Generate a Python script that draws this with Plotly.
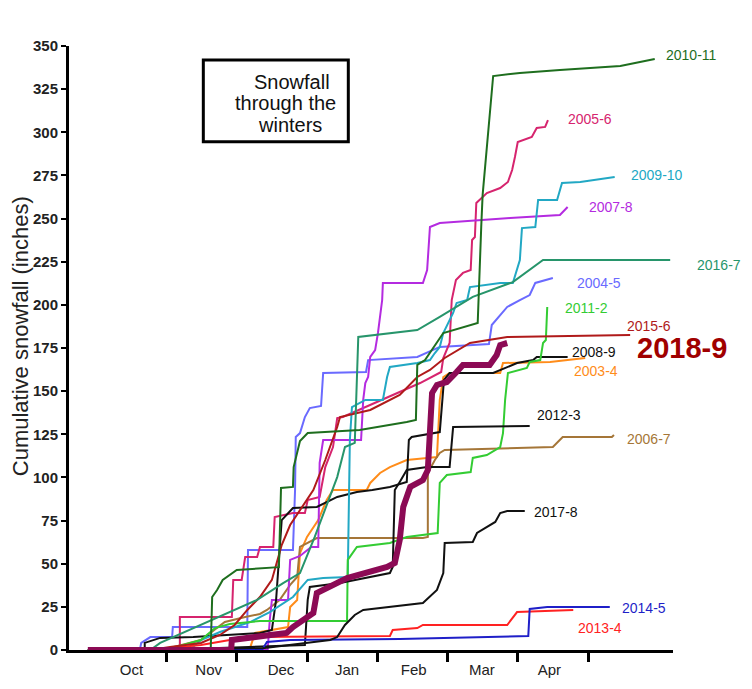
import plotly.graph_objects as go

# x values are months since Oct 1 (Oct=0..1, Nov=1..2, ...), y values cumulative inches
s2003_x = [0.77,2.19,2.26,2.47,2.73,2.76,2.86,2.9,3.0,3.16,3.28,3.37,3.85,3.9,4.04,4.18,4.42,4.71,4.85,4.89,4.94,5.03,5.75,5.79,6.46,6.96]
s2003_y = [0,1.2,9.9,11.6,13.3,24.9,29,56.2,65.5,75.3,86.9,92.7,92.7,96.8,102.6,106,110.1,111.3,111.8,144.9,158.2,160.5,160.5,166.3,166.9,169.2]

s2004_x = [0.62,0.64,0.77,1.08,1.09,2.15,2.16,2.8,2.83,2.84,2.9,2.97,3.04,3.2,3.23,3.84,3.87,4.57,4.89,5.59,5.63,5.85,6.03,6.17,6.25,6.5]
s2004_y = [0,4.1,7.5,7.5,13.3,13.3,57.9,57.9,92.7,123.4,125.7,135,140.2,141.4,160.5,161.1,168,169.8,175.6,177.3,188.3,198.8,202.8,205.7,212.7,215.6]

s2005_x = [-0.12,1.19,1.19,1.93,1.95,2.07,2.12,2.29,2.33,2.52,2.54,2.8,2.97,3.01,3.18,3.26,3.37,3.43,3.51,4.0,4.61,4.91,4.94,5.03,5.06,5.12,5.22,5.33,5.35,5.39,5.41,5.56,5.75,5.86,5.92,5.96,6.0,6.2,6.27,6.39,6.43]
s2005_y = [0,0,19.1,19.1,40.6,40.6,53.9,53.9,59.7,59.7,77.1,79.4,79.4,86.9,88.7,106,117.6,134.4,135,143.7,154.7,161.1,169.2,177.9,202.8,214.4,218.5,220.2,237.6,239.3,259,264.8,267.7,271.2,278.1,285.7,294.4,297.3,302.5,303.1,307.1]

s2006_x = [0.77,1.05,1.49,1.83,2.12,2.33,2.43,2.61,2.76,2.86,2.9,3.14,4.65,4.72,4.72,4.82,4.89,4.96,6.5,6.6,6.64,7.34,7.37]
s2006_y = [0,1.2,5.8,16.2,19.1,20.9,23.2,29,37.7,42.3,59.7,64.9,64.9,65.5,102.6,110.1,114.2,115.9,117.6,121.7,123.4,123.4,124.6]

s2007_x = [-0.12,2.44,2.47,2.5,2.73,2.76,2.9,3.06,3.16,3.18,3.23,3.77,3.8,3.83,3.87,3.9,3.97,4.01,4.07,4.08,4.65,4.71,4.75,4.89,5.89,6.6,6.71]
s2007_y = [0,0,17.4,29,29,52.2,54.5,59.7,59.7,108.4,121.7,121.7,144.9,154.7,158.2,169.8,173.8,183.7,202.8,212.7,212.7,220.2,245.1,247.4,250.3,252.1,256.7]

s2008_x = [0.69,0.69,0.91,1.38,2.33,2.5,2.56,2.64,2.8,3.14,3.43,3.71,3.93,4.18,4.42,4.45,4.49,4.89,4.95,5.03,5.65,5.75,5.99,6.22,6.27,6.71]
s2008_y = [0,4.1,7,7.5,9.9,11.6,29,75.3,82.3,82.9,88.7,91.6,92.7,94.5,97.4,121.7,123.4,126.3,156.5,160.5,160.5,162.3,166.3,168,169.8,169.8]

s2009_x = [-0.12,1.33,1.49,1.76,2.19,2.47,2.8,3.01,3.23,3.58,3.61,3.64,3.83,4.08,4.14,4.18,4.57,4.75,4.82,4.89,4.94,5.08,5.13,5.28,5.32,5.75,5.93,6.0,6.03,6.06,6.25,6.29,6.56,6.63,6.89,7.38]
s2009_y = [0,0,5.8,10.4,16.2,22,30.7,40.6,41.7,42.3,121.7,140.8,144.9,144.9,158.2,164,166.3,168,172.1,175.6,183.7,195.3,201.1,202.8,210.3,212.7,212.7,221.9,226,244.5,245.1,260.8,260.8,270.6,271.2,274.1]

s2010_x = [-0.12,0.77,1.63,1.65,1.72,1.8,2.0,2.52,2.6,2.63,2.8,2.81,2.9,3.01,3.75,4.42,4.55,4.57,4.68,4.94,5.36,5.43,5.48,5.5,5.65,6.03,6.6,7.46,7.74,7.95]
s2010_y = [0,0,1.2,30.7,34.8,40.6,46.4,47.5,48,93.9,94.5,106,121.1,125.7,127.5,132.1,133.3,165.2,168,183.7,188.3,189.5,245.1,263.7,332.6,334.4,336.1,338.4,340.7,342.5]

s2011_x = [-0.12,1.05,1.19,1.49,1.69,1.9,2.33,3.57,3.58,3.71,4.18,4.42,4.86,4.89,4.99,5.33,5.36,5.56,5.75,5.79,5.82,5.86,6.13,6.17,6.32,6.36,6.4,6.42]
s2011_y = [0,0,2.3,5.8,12.7,15.1,16.8,16.8,52.2,59.7,62,65.5,67.8,96.8,101.4,103.1,111.3,113,117.6,125.7,144.9,160.5,163.4,166.9,168,177.9,179.6,198.8]

s2012_x = [0.91,2.05,2.97,3.01,3.04,3.47,3.8,4.18,4.22,4.25,4.32,4.42,4.71,5.03,5.08,6.17]
s2012_y = [0,1.7,2.9,29,36.5,38.8,41.7,44.6,48.1,92.7,97.4,104.3,106,106,129.2,129.8]

s2013_x = [0.77,1.49,1.9,2.05,4.18,4.22,4.57,4.65,5.85,5.99,6.79]
s2013_y = [0,2.9,5.8,7.5,8.1,11.6,12.7,14.5,14.5,22,23.2]

s2014_x = [1.9,2.36,2.43,2.76,4.32,5.6,6.15,6.17,6.42,7.31]
s2014_y = [0,0,4.6,5.8,6.4,7.5,8.1,23.8,24.9,24.9]

s2015_x = [-0.12,0.77,1.05,1.49,1.76,1.97,2.15,2.33,2.5,2.64,2.76,2.9,3.09,3.26,3.43,3.47,3.9,4.32,4.57,4.75,4.96,5.32,5.85,7.6]
s2015_y = [0,0,1.7,4.1,8.7,14.5,23.2,30.7,40.6,60.8,72.4,81.1,92.7,110.1,129.2,135,139.1,147.8,158.2,162.3,169.2,177.9,181.4,182.5]

s2016_x = [-0.12,0.77,0.91,1.49,1.86,2.29,2.66,2.9,3.11,3.43,3.54,3.68,3.73,4.57,4.89,5.36,5.93,6.36,8.17]
s2016_y = [0,0,4.1,14.5,21.4,29,38.8,44.6,65.5,100.2,117.6,120,181.4,185.4,193,204.6,213.2,226,226]

s2017_x = [0.77,2.4,3.33,3.43,3.54,3.68,3.8,4.18,4.65,4.85,4.94,4.96,5.36,5.42,5.56,5.68,5.75,5.85,6.1]
s2017_y = [0,1.2,5.8,7.5,14.5,20.3,23.2,24.9,27.2,34.8,44.6,62,62.6,67.8,71.3,74.2,79.4,80.5,80.5]

s2018_x = [-0.12,1.92,1.93,2.71,2.8,3.09,3.14,3.57,4.14,4.25,4.32,4.37,4.47,4.65,4.72,4.75,4.78,4.85,4.99,5.13,5.22,5.6,5.7,5.75,5.85]
s2018_y = [0,0,5.8,9.9,13.3,21.4,33,41.7,48.1,50.4,63.7,82.9,94.5,98.5,104.3,121.7,148.9,153.6,155.3,161.1,165.2,165.2,170.9,176.7,177.9]

month_labels = ["Oct", "Nov", "Dec", "Jan", "Feb", "Mar", "Apr"]
month_label_pos = [0.5, 1.6, 2.63, 3.57, 4.52, 5.49, 6.45]
month_boundaries = [1, 2, 3, 4, 5, 6, 7]
y_ticks = list(range(0, 351, 25))

X_RANGE = [-0.388, 8.21]

series = [
    ("2003-4", s2003_x, s2003_y, "#ff8c1a", 6.77, 161.7),
    ("2004-5", s2004_x, s2004_y, "#6a6aff", 6.81, 212.7),
    ("2005-6", s2005_x, s2005_y, "#d6246e", 6.69, 307.7),
    ("2006-7", s2006_x, s2006_y, "#a57638", 7.53, 122.3),
    ("2007-8", s2007_x, s2007_y, "#b42be0", 6.99, 256.7),
    ("2008-9", s2008_x, s2008_y, "#111111", 6.74, 172.7),
    ("2009-10", s2009_x, s2009_y, "#22a8c4", 7.58, 275.2),
    ("2011-2", s2011_x, s2011_y, "#33cc33", 6.64, 198.2),
    ("2012-3", s2012_x, s2012_y, "#111111", 6.25, 136.2),
    ("2013-4", s2013_x, s2013_y, "#ff2222", 6.83, 12.7),
    ("2014-5", s2014_x, s2014_y, "#1f1fc8", 7.46, 24.3),
    ("2015-6", s2015_x, s2015_y, "#b01a1a", 7.53, 187.7),
    ("2016-7", s2016_x, s2016_y, "#27956b", 8.52, 223.1),
    ("2017-8", s2017_x, s2017_y, "#111111", 6.2, 80.0),
    ("2010-11", s2010_x, s2010_y, "#1e6e1e", 8.08, 344.8),
]


def to_paper_x(m):
    return (m - X_RANGE[0]) / (X_RANGE[1] - X_RANGE[0])


FONT = "Liberation Sans, Arial, sans-serif"
fig = go.Figure()
annotations = []
for name, xs, ys, col, lx, ly in series:
    fig.add_trace(go.Scatter(x=xs, y=ys, mode="lines", name=name,
                             line=dict(color=col, width=2), cliponaxis=False,
                             showlegend=False, hoverinfo="skip"))
    annotations.append(dict(x=to_paper_x(lx), y=ly, xref="paper", yref="y", text=name,
                            showarrow=False, xanchor="left", yanchor="middle",
                            font=dict(family=FONT, size=14, color=col)))

fig.add_trace(go.Scatter(x=s2018_x, y=s2018_y, mode="lines", name="2018-9",
                         line=dict(color="#8c0a55", width=6), cliponaxis=False,
                         showlegend=False, hoverinfo="skip"))
annotations.append(dict(x=to_paper_x(7.67), y=175, xref="paper", yref="y", text="<b>2018-9</b>",
                        showarrow=False, xanchor="left", yanchor="middle",
                        font=dict(family=FONT, size=29, color="#a00000")))

# title box text
for txt, tx, ty in [("Snowfall", 2.78, 329.3), ("through the", 2.70, 317.0), ("winters", 2.76, 304.2)]:
    annotations.append(dict(x=tx, y=ty, xref="x", yref="y", text=txt, showarrow=False,
                            xanchor="center", yanchor="middle",
                            font=dict(family=FONT, size=20, color="#111111")))

# y axis title
annotations.append(dict(x=-0.079, y=182, xref="paper", yref="y", text="Cumulative snowfall (inches)",
                        textangle=-90, showarrow=False, xanchor="center", yanchor="middle",
                        font=dict(family=FONT, size=22, color="#222222")))

fig.add_shape(type="rect", xref="x", yref="y", x0=1.524, x1=3.588, y0=294.5, y1=341.9,
              line=dict(color="black", width=3), fillcolor="white", layer="below")

# the page body has an 8px margin, so the figure is sized to fill the 752x689 window exactly
fig.update_layout(
    width=736, height=673,
    margin=dict(l=61, r=71, t=38, b=31, autoexpand=False),
    paper_bgcolor="white", plot_bgcolor="white",
    annotations=annotations,
    xaxis=dict(range=X_RANGE, showgrid=False, zeroline=False, automargin=False,
               showline=True, linecolor="black", linewidth=3,
               tickmode="array", tickvals=month_label_pos, ticktext=month_labels,
               ticks="outside", ticklen=4, tickcolor="rgba(0,0,0,0)",
               tickfont=dict(family=FONT, size=15, color="#222222"),
               minor=dict(tickmode="array", tickvals=month_boundaries, ticks="outside",
                          ticklen=9, tickwidth=3, tickcolor="black", showgrid=False),
               layer="below traces"),
    yaxis=dict(range=[0, 350], showgrid=False, zeroline=False, automargin=False,
               showline=True, linecolor="black", linewidth=3,
               tickmode="array", tickvals=y_ticks, ticktext=[f"<b>{v}</b>" for v in y_ticks],
               ticks="outside", ticklen=5, tickwidth=2, tickcolor="black",
               tickfont=dict(family=FONT, size=15, color="#222222"),
               layer="below traces"),
)

fig.write_html("out.html")
